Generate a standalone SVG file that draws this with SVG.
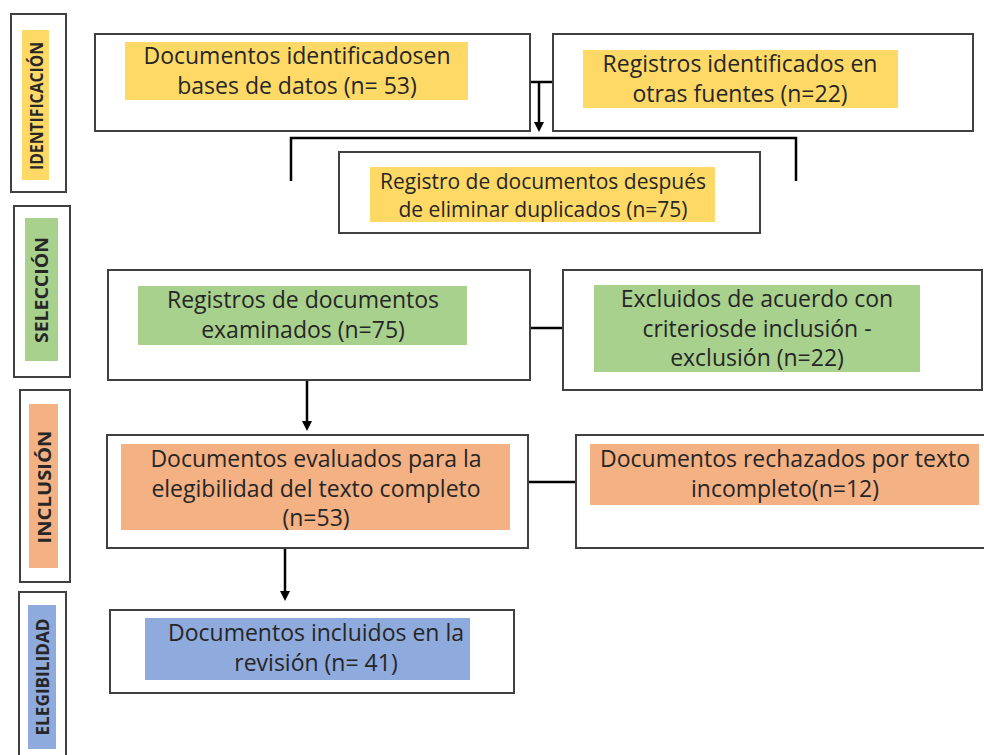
<svg xmlns="http://www.w3.org/2000/svg" width="984" height="755" viewBox="0 0 984 755">
<defs>
<style>
.box{fill:#fff;stroke:#404040;stroke-width:2}
.t{font-family:"Open Sans","Noto Sans",sans-serif;font-size:23px;fill:#262626;text-anchor:middle}
.ts{font-size:21px}
.side{font-family:"Open Sans","Noto Sans",sans-serif;font-size:18px;font-weight:bold;fill:#262626;text-anchor:middle}
.y{fill:#ffd966}.g{fill:#a9d18e}.o{fill:#f4b183}.b{fill:#8faadc}
.ln{fill:none;stroke:#000;stroke-width:2.5}
</style>
<marker id="ah" markerWidth="10" markerHeight="10" refX="5" refY="5" orient="auto" markerUnits="userSpaceOnUse"><path d="M0,0 L10,5 L0,10 Z" fill="#000"/></marker>
</defs>
<rect width="984" height="755" fill="#fff"/>

<g id="side-identificacion">
<rect class="box" x="11" y="14" width="55" height="178"/>
<rect class="y" x="22" y="30" width="27" height="150"/>
<text class="side" transform="translate(43,106) rotate(-90)" textLength="128" lengthAdjust="spacingAndGlyphs">IDENTIFICACIÓN</text>
</g>
<g id="side-seleccion">
<rect class="box" x="14" y="206" width="56" height="171"/>
<rect class="g" x="25" y="218" width="33" height="143"/>
<text class="side" transform="translate(48,290) rotate(-90)" textLength="106" lengthAdjust="spacingAndGlyphs">SELECCIÓN</text>
</g>
<g id="side-inclusion">
<rect class="box" x="20" y="390" width="50" height="192"/>
<rect class="o" x="29" y="404" width="29" height="164"/>
<text class="side" transform="translate(51,487) rotate(-90)" textLength="113" lengthAdjust="spacingAndGlyphs">INCLUSIÓN</text>
</g>
<g id="side-elegibilidad">
<rect class="box" x="19" y="592" width="47" height="175"/>
<rect class="b" x="28" y="605" width="28" height="144"/>
<text class="side" transform="translate(49,677) rotate(-90)" textLength="117" lengthAdjust="spacingAndGlyphs">ELEGIBILIDAD</text>
</g>

<g id="connectors">
<path class="ln" d="M530,82 H553"/>
<path class="ln" d="M539,82 V127" marker-end="url(#ah)"/>
<path class="ln" d="M291,181 V138 H796 V181"/>
<path class="ln" d="M530,328 H563"/>
<path class="ln" d="M307,381 V426" marker-end="url(#ah)"/>
<path class="ln" d="M528,482 H576"/>
<path class="ln" d="M285,549 V596" marker-end="url(#ah)"/>
</g>

<g id="n-bases">
<rect class="box" x="95" y="34" width="435" height="97"/>
<rect class="y" x="125" y="42" width="343" height="58"/>
<text class="t" x="297" y="64">Documentos identificadosen</text>
<text class="t" x="297" y="94">bases de datos (n= 53)</text>
</g>
<g id="n-otras">
<rect class="box" x="553" y="34" width="420" height="97"/>
<rect class="y" x="583" y="50" width="315" height="58"/>
<text class="t" x="740" y="72">Registros identificados en</text>
<text class="t" x="740" y="102">otras fuentes (n=22)</text>
</g>
<g id="n-duplicados">
<rect class="box" x="339" y="152" width="421" height="81"/>
<rect class="y" x="370" y="167" width="345" height="55"/>
<text class="t ts" x="543" y="189">Registro de documentos después</text>
<text class="t ts" x="543" y="217">de eliminar duplicados (n=75)</text>
</g>
<g id="n-examinados">
<rect class="box" x="108" y="270" width="422" height="110"/>
<rect class="g" x="138" y="286" width="329" height="59"/>
<text class="t" x="303" y="308">Registros de documentos</text>
<text class="t" x="303" y="338">examinados (n=75)</text>
</g>
<g id="n-excluidos">
<rect class="box" x="563" y="270" width="419" height="120"/>
<rect class="g" x="594" y="285" width="326" height="87"/>
<text class="t" x="757" y="307">Excluidos de acuerdo con</text>
<text class="t" x="757" y="337">criteriosde inclusión -</text>
<text class="t" x="757" y="366">exclusión (n=22)</text>
</g>
<g id="n-evaluados">
<rect class="box" x="107" y="435" width="421" height="113"/>
<rect class="o" x="121" y="444" width="389" height="86"/>
<text class="t" x="316" y="467">Documentos evaluados para la</text>
<text class="t" x="316" y="497">elegibilidad del texto completo</text>
<text class="t" x="316" y="526">(n=53)</text>
</g>
<g id="n-rechazados">
<rect class="box" x="576" y="435" width="420" height="113"/>
<rect class="o" x="590" y="444" width="389" height="61"/>
<text class="t" x="785" y="467">Documentos rechazados por texto</text>
<text class="t" x="785" y="497">incompleto(n=12)</text>
</g>
<g id="n-incluidos">
<rect class="box" x="110" y="610" width="404" height="83"/>
<rect class="b" x="145" y="618" width="325" height="62"/>
<text class="t" x="316" y="641">Documentos incluidos en la</text>
<text class="t" x="316" y="671">revisión (n= 41)</text>
</g>
</svg>
